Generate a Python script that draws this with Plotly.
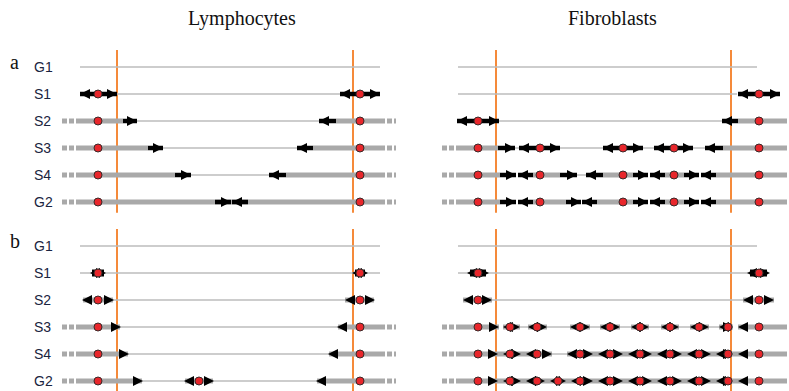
import plotly.graph_objects as go

ROWS = ["G1", "S1", "S2", "S3", "S4", "G2"]
PANEL_LABELS = ["a", "b"]
TITLES = ["Lymphocytes", "Fibroblasts"]

# ---------- Panel a, Lymphocytes ----------
LA_THIN = [[(80, 380)], [(117, 340)], [(137, 319)], [(163, 297)], [(190, 269)], []]
LA_GRAY = [[], [], [(80, 123), (336, 380)], [(80, 148), (313, 380)], [(80, 175), (286, 380)], [(80, 380)]]
LA_DASH = [[], [], [(62, 80), (380, 396)], [(62, 80), (380, 396)], [(62, 80), (380, 396)], [(62, 80), (380, 396)]]
LA_FORKS = [[], [(98, 80), (98, 117), (360, 340), (360, 380)], [(123, 137), (336, 319)],
            [(148, 163), (313, 297)], [(175, 191), (286, 269)], [(215, 231), (248, 232)]]
LA_ORI = [[], [98, 360], [98, 360], [98, 360], [98, 360], [98, 360]]

# ---------- Panel a, Fibroblasts ----------
FA_THIN = [[(458, 757)], [(458, 737)], [(499, 722)], [(513, 521), (560, 603), (641, 656), (693, 705)],
           [(577, 586)], []]
FA_GRAY = [[], [], [(738, 782)], [(460, 498), (723, 782)],
           [(460, 500), (533, 560), (603, 633), (665, 684), (716, 782)],
           [(460, 500), (533, 566), (597, 633), (665, 684), (716, 782)]]
FA_DASH = [[], [], [(782, 797)], [(442, 460), (782, 797)], [(442, 460), (782, 797)], [(442, 460), (782, 797)]]
FA_FORKS = [[], [(759, 738), (759, 780)], [(478, 457), (478, 499), (738, 722)],
            [(498, 515), (540, 519), (540, 560), (623, 603), (623, 643), (674, 654), (674, 693), (723, 705)],
            [(500, 516), (533, 518), (560, 577), (603, 586), (633, 648), (665, 650), (684, 699), (716, 701)],
            [(500, 516), (533, 518), (566, 581), (597, 582), (633, 648), (665, 650), (684, 699), (716, 701)]]
FA_ORI = [[], [759], [478, 759], [478, 540, 623, 674, 759], [478, 540, 623, 674, 759], [478, 540, 623, 674, 759]]

# ---------- Panel b, Lymphocytes ----------
LB_THIN = [[(80, 380)], [(80, 380)], [(113, 345)], [(120, 338)], [(128, 329)], [(142, 185), (213, 317)]]
LB_GRAY = [[], [], [(83, 113), (345, 374)], [(80, 120), (338, 380)], [(80, 128), (329, 380)],
           [(80, 142), (185, 213), (317, 380)]]
LB_BLACK = [[], [(92, 104), (355, 365)], [], [], [], []]
LB_DASH = [[], [], [], [(62, 80), (380, 396)], [(62, 80), (380, 396)], [(62, 80), (380, 396)]]
LB_TIPS = [[], [(90, -1), (106, 1), (352, -1), (368, 1)], [(82, -1), (114, 1), (345, -1), (375, 1)],
           [(121, 1), (337, -1)], [(129, 1), (328, -1)], [(143, 1), (184, -1), (214, 1), (316, -1)]]
LB_ORI = [[], [98, 360], [98, 360], [98, 360], [98, 360], [98, 199, 360]]

# ---------- Panel b, Fibroblasts ----------
FB_THIN = [[(458, 757)], [(458, 748)], [(492, 743)],
           [(520, 528), (547, 570), (590, 600), (620, 631), (649, 661), (679, 690), (709, 719)],
           [(552, 567)], []]
FB_GRAY = [[], [], [(463, 492), (743, 774)],
           [(460, 499), (503, 520), (528, 547), (570, 590), (600, 620), (631, 649), (661, 679),
            (690, 709), (719, 733), (738, 782)],
           [(460, 552), (567, 782)], [(460, 782)]]
FB_BLACK = [[], [(470, 486), (750, 767)], [], [], [], []]
FB_DASH = [[], [], [], [(442, 460), (782, 797)], [(442, 460), (782, 797)], [(442, 460), (782, 797)]]
FB_TIPS = [[], [(467, -1), (489, 1), (747, -1), (770, 1)], [(463, -1), (492, 1), (743, -1), (774, 1)],
           [(499, 1), (503, -1), (520, 1), (528, -1), (547, 1), (570, -1), (590, 1), (600, -1), (620, 1),
            (631, -1), (649, 1), (661, -1), (679, 1), (690, -1), (709, 1), (719, -1), (733, 1), (738, -1)],
           [(498, 1), (503, -1), (521, 1), (526, -1), (552, 1), (567, -1), (593, 1), (598, -1), (623, 1),
            (628, -1), (652, 1), (657, -1), (682, 1), (687, -1), (711, 1), (716, -1), (733, 1), (738, -1)],
           [(498, 1), (503, -1), (521, 1), (526, -1), (545, 1), (550, -1), (566, 1), (571, -1), (593, 1),
            (598, -1), (623, 1), (628, -1), (652, 1), (657, -1), (682, 1), (687, -1), (711, 1), (716, -1),
            (733, 1), (738, -1)]]
FB_ORI = [[], [478, 759], [478, 759], [478, 510, 537, 580, 610, 640, 670, 699, 728, 759],
          [478, 510, 537, 580, 610, 640, 670, 699, 728, 759],
          [478, 510, 537, 558, 580, 610, 640, 670, 699, 728, 759]]

ORANGE_X = [[117, 353], [496, 731]]
PANEL_Y0 = [0.0, 6.63]   # row offset of panels a and b
LABEL_X = 32
TITLE_X = [242, 612]

THIN_C = "#bdbdbd"
GRAY_C = "#a9a9a9"
ORANGE_C = "#f58a3a"
RED_C = "#e8262b"

fig = go.Figure()


def seg_xy(rows, y0):
    xs, ys = [], []
    for r, segs in enumerate(rows):
        for a, b in segs:
            xs += [a, b, None]
            ys += [y0 + r, y0 + r, None]
    return xs, ys


def add_lines(rows, y0, color, width, dash="solid"):
    xs, ys = seg_xy(rows, y0)
    if xs:
        fig.add_trace(go.Scatter(x=xs, y=ys, mode="lines", hoverinfo="skip",
                                 line=dict(color=color, width=width, dash=dash)))


def add_tips(tips_rows, y0, size):
    for d, sym in [(1, "arrow-right"), (-1, "arrow-left")]:
        xs, ys = [], []
        for r, tips in enumerate(tips_rows):
            for t, dd in tips:
                if dd == d:
                    xs.append(t)
                    ys.append(y0 + r)
        if xs:
            fig.add_trace(go.Scatter(x=xs, y=ys, mode="markers", hoverinfo="skip",
                                     marker=dict(symbol=sym, size=size, color="black",
                                                 line=dict(width=0))))


def add_orig(rows, y0):
    xs, ys = [], []
    for r, oris in enumerate(rows):
        for o in oris:
            xs.append(o)
            ys.append(y0 + r)
    fig.add_trace(go.Scatter(x=xs, y=ys, mode="markers", hoverinfo="skip",
                             marker=dict(symbol="circle", size=8, color=RED_C,
                                         line=dict(color="#3a2a2a", width=1))))


def add_panel(thin, gray, dash, y0, forks=None, tips=None, black=None):
    add_lines(thin, y0, THIN_C, 1.5)
    add_lines(dash, y0, GRAY_C, 5, "5px,2px")
    add_lines(gray, y0, GRAY_C, 5)
    if forks is not None:
        add_lines([[(a, b) for a, b in row] for row in forks], y0, "black", 4.5)
        tip_rows = [[(b, 1 if b > a else -1) for a, b in row] for row in forks]
        add_tips(tip_rows, y0, 10)
    if black is not None:
        add_lines(black, y0, "black", 7)
    if tips is not None:
        add_tips(tips, y0, 10)


# orange lines
for p in range(2):
    for px in ORANGE_X:
        for xv in px:
            fig.add_trace(go.Scatter(x=[xv, xv], y=[PANEL_Y0[p] - 0.63, PANEL_Y0[p] + 5.4],
                                     mode="lines", hoverinfo="skip",
                                     line=dict(color=ORANGE_C, width=2)))

add_panel(LA_THIN, LA_GRAY, LA_DASH, PANEL_Y0[0], forks=LA_FORKS)
add_panel(FA_THIN, FA_GRAY, FA_DASH, PANEL_Y0[0], forks=FA_FORKS)
add_panel(LB_THIN, LB_GRAY, LB_DASH, PANEL_Y0[1], tips=LB_TIPS, black=LB_BLACK)
add_panel(FB_THIN, FB_GRAY, FB_DASH, PANEL_Y0[1], tips=FB_TIPS, black=FB_BLACK)
for ori, p in [(LA_ORI, 0), (FA_ORI, 0), (LB_ORI, 1), (FB_ORI, 1)]:
    add_orig(ori, PANEL_Y0[p])

annotations = []
for p in range(2):
    for r, name in enumerate(ROWS):
        annotations.append(dict(x=LABEL_X, y=PANEL_Y0[p] + r, text=name, showarrow=False,
                                xanchor="left", yanchor="middle",
                                font=dict(family="Liberation Sans, Arial", size=14, color="#1a2440")))
    annotations.append(dict(x=8, y=PANEL_Y0[p] - 0.2, text=PANEL_LABELS[p], showarrow=False,
                            xanchor="left", yanchor="middle",
                            font=dict(family="Liberation Serif, Times New Roman", size=20, color="#111")))
for t, xv in zip(TITLES, TITLE_X):
    annotations.append(dict(x=xv, y=-1.8, text=t, showarrow=False, xanchor="center", yanchor="middle",
                            font=dict(family="Liberation Serif, Times New Roman", size=20, color="#111")))

fig.update_layout(
    width=789, height=391, autosize=False,
    margin=dict(l=0, r=0, t=0, b=0),
    paper_bgcolor="white", plot_bgcolor="white",
    showlegend=False,
    xaxis=dict(range=[0, 789], visible=False, fixedrange=True),
    yaxis=dict(range=[(391 - 67) / 27, -67 / 27], visible=False, fixedrange=True),
    annotations=annotations,
)

fig.write_html("out.html")
